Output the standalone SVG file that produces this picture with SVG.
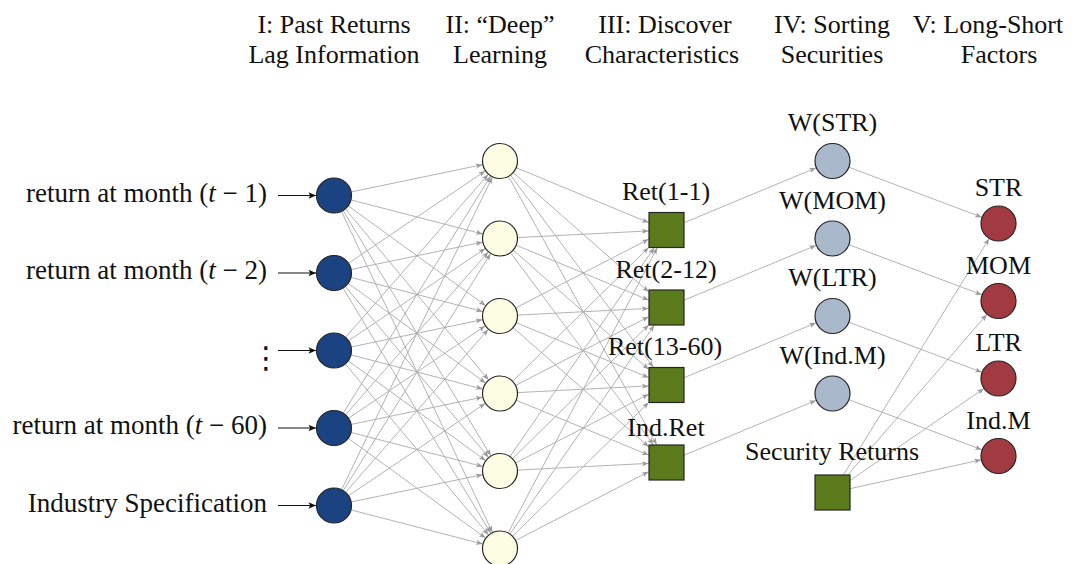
<svg xmlns="http://www.w3.org/2000/svg" width="1077" height="564" viewBox="0 0 1077 564">
<style>
.t{font-family:"Liberation Serif","Times New Roman",serif;font-size:26px;fill:#111;text-anchor:middle}
.te{font-family:"Liberation Serif","Times New Roman",serif;font-size:27px;fill:#111;text-anchor:end}
.in{fill:#1b4281;stroke:#262626;stroke-width:1.2}
.hid{fill:#fdfde4;stroke:#262626;stroke-width:1.2}
.ch{fill:#5b7a1b;stroke:#262626;stroke-width:1.2}
.w{fill:#a9b9cb;stroke:#262626;stroke-width:1.2}
.f{fill:#a23a41;stroke:#262626;stroke-width:1.2}
.e{stroke:#aaaaaa;stroke-width:0.9;fill:none;marker-end:url(#ac)}
.es{stroke:#aaaaaa;stroke-width:0.9;fill:none;marker-end:url(#as)}
.k{stroke:#111;stroke-width:1.1;fill:none;marker-end:url(#ak)}
</style>
<defs>
<marker id="ac" markerUnits="userSpaceOnUse" orient="auto" refX="18" refY="0" markerWidth="8" markerHeight="8" overflow="visible"><path d="M-6.5,-2.6 L0,0 L-6.5,2.6 L-5,0 Z" fill="#9a9a9a"/></marker>
<marker id="as" markerUnits="userSpaceOnUse" orient="auto" refX="0.5" refY="0" markerWidth="8" markerHeight="8" overflow="visible"><path d="M-6.5,-2.6 L0,0 L-6.5,2.6 L-5,0 Z" fill="#9a9a9a"/></marker>
<marker id="ak" markerUnits="userSpaceOnUse" orient="auto" refX="0" refY="0" markerWidth="8" markerHeight="8" overflow="visible"><path d="M-7.5,-3.2 L0,0 L-7.5,3.2 L-5.8,0 Z" fill="#111"/></marker>
</defs>

<g id="headers">
<text class="t" x="334" y="33">I: Past Returns</text>
<text class="t" x="334" y="63">Lag Information</text>
<text class="t" x="500" y="33">II: “Deep”</text>
<text class="t" x="500" y="63">Learning</text>
<text class="t" x="665" y="33">III: Discover</text>
<text class="t" x="662" y="63">Characteristics</text>
<text class="t" x="832" y="33">IV: Sorting</text>
<text class="t" x="832" y="63">Securities</text>
<text class="t" x="988" y="33">V: Long-Short</text>
<text class="t" x="999" y="63">Factors</text>
</g>

<g id="connectors">
<g id="input-labels">
<line class="k" x1="278" y1="195.5" x2="316" y2="195.5"/>
<line class="k" x1="278" y1="273" x2="316" y2="273"/>
<line class="k" x1="278" y1="350.5" x2="316" y2="350.5"/>
<line class="k" x1="278" y1="428" x2="316" y2="428"/>
<line class="k" x1="278" y1="505.5" x2="316" y2="505.5"/>
</g>
<g id="input-hidden">
<line class="e" x1="334" y1="195.5" x2="500" y2="161"/>
<line class="e" x1="334" y1="195.5" x2="500" y2="238.5"/>
<line class="e" x1="334" y1="195.5" x2="500" y2="316"/>
<line class="e" x1="334" y1="195.5" x2="500" y2="393.5"/>
<line class="e" x1="334" y1="195.5" x2="500" y2="471"/>
<line class="e" x1="334" y1="195.5" x2="500" y2="548.5"/>
<line class="e" x1="334" y1="273" x2="500" y2="161"/>
<line class="e" x1="334" y1="273" x2="500" y2="238.5"/>
<line class="e" x1="334" y1="273" x2="500" y2="316"/>
<line class="e" x1="334" y1="273" x2="500" y2="393.5"/>
<line class="e" x1="334" y1="273" x2="500" y2="471"/>
<line class="e" x1="334" y1="273" x2="500" y2="548.5"/>
<line class="e" x1="334" y1="350.5" x2="500" y2="161"/>
<line class="e" x1="334" y1="350.5" x2="500" y2="238.5"/>
<line class="e" x1="334" y1="350.5" x2="500" y2="316"/>
<line class="e" x1="334" y1="350.5" x2="500" y2="393.5"/>
<line class="e" x1="334" y1="350.5" x2="500" y2="471"/>
<line class="e" x1="334" y1="350.5" x2="500" y2="548.5"/>
<line class="e" x1="334" y1="428" x2="500" y2="161"/>
<line class="e" x1="334" y1="428" x2="500" y2="238.5"/>
<line class="e" x1="334" y1="428" x2="500" y2="316"/>
<line class="e" x1="334" y1="428" x2="500" y2="393.5"/>
<line class="e" x1="334" y1="428" x2="500" y2="471"/>
<line class="e" x1="334" y1="428" x2="500" y2="548.5"/>
<line class="e" x1="334" y1="505.5" x2="500" y2="161"/>
<line class="e" x1="334" y1="505.5" x2="500" y2="238.5"/>
<line class="e" x1="334" y1="505.5" x2="500" y2="316"/>
<line class="e" x1="334" y1="505.5" x2="500" y2="393.5"/>
<line class="e" x1="334" y1="505.5" x2="500" y2="471"/>
<line class="e" x1="334" y1="505.5" x2="500" y2="548.5"/>
</g>
<g id="hidden-char">
<line class="es" x1="500" y1="161" x2="649" y2="222.75"/>
<line class="es" x1="500" y1="238.5" x2="649" y2="230.89"/>
<line class="es" x1="500" y1="316" x2="649" y2="239.04"/>
<line class="es" x1="500" y1="393.5" x2="649" y2="247.18"/>
<line class="es" x1="500" y1="471" x2="654.41" y2="247.5"/>
<line class="es" x1="500" y1="548.5" x2="657.35" y2="247.5"/>
<line class="es" x1="500" y1="161" x2="649" y2="292.1"/>
<line class="es" x1="500" y1="238.5" x2="649" y2="300.25"/>
<line class="es" x1="500" y1="316" x2="649" y2="308.39"/>
<line class="es" x1="500" y1="393.5" x2="649" y2="316.54"/>
<line class="es" x1="500" y1="471" x2="649" y2="324.68"/>
<line class="es" x1="500" y1="548.5" x2="654.41" y2="325"/>
<line class="es" x1="500" y1="161" x2="653.49" y2="367.5"/>
<line class="es" x1="500" y1="238.5" x2="649" y2="369.6"/>
<line class="es" x1="500" y1="316" x2="649" y2="377.75"/>
<line class="es" x1="500" y1="393.5" x2="649" y2="385.89"/>
<line class="es" x1="500" y1="471" x2="649" y2="394.04"/>
<line class="es" x1="500" y1="548.5" x2="649" y2="402.18"/>
<line class="es" x1="500" y1="161" x2="656.84" y2="445"/>
<line class="es" x1="500" y1="238.5" x2="653.49" y2="445"/>
<line class="es" x1="500" y1="316" x2="649" y2="447.1"/>
<line class="es" x1="500" y1="393.5" x2="649" y2="455.25"/>
<line class="es" x1="500" y1="471" x2="649" y2="463.39"/>
<line class="es" x1="500" y1="548.5" x2="649" y2="471.54"/>
</g>
<g id="char-weight">
<line class="e" x1="666.5" y1="230" x2="832.5" y2="161"/>
<line class="e" x1="666.5" y1="307.5" x2="832.5" y2="238.5"/>
<line class="e" x1="666.5" y1="385" x2="832.5" y2="316"/>
<line class="e" x1="666.5" y1="462.5" x2="832.5" y2="393.5"/>
</g>
<g id="weight-factor">
<line class="e" x1="832.5" y1="161" x2="998.5" y2="223.5"/>
<line class="e" x1="832.5" y1="238.5" x2="998.5" y2="301"/>
<line class="e" x1="832.5" y1="316" x2="998.5" y2="378.5"/>
<line class="e" x1="832.5" y1="393.5" x2="998.5" y2="456"/>
</g>
<g id="secret-factor">
<line class="e" x1="832.5" y1="492.5" x2="998.5" y2="223.5"/>
<line class="e" x1="832.5" y1="492.5" x2="998.5" y2="301"/>
<line class="e" x1="832.5" y1="492.5" x2="998.5" y2="378.5"/>
<line class="e" x1="832.5" y1="492.5" x2="998.5" y2="456"/>
</g>
</g>

<g id="input-nodes">
<g id="in1"><circle class="in" cx="334" cy="195.5" r="17.5"/><text class="te" x="267" y="201.5">return at month (<tspan font-style="italic">t</tspan> − 1)</text></g>
<g id="in2"><circle class="in" cx="334" cy="273" r="17.5"/><text class="te" x="267" y="279">return at month (<tspan font-style="italic">t</tspan> − 2)</text></g>
<g id="in3"><circle class="in" cx="334" cy="350.5" r="17.5"/><text class="t" x="266" y="368" style="font-family:'DejaVu Sans',sans-serif;font-size:30px">⋮</text></g>
<g id="in4"><circle class="in" cx="334" cy="428" r="17.5"/><text class="te" x="267" y="434">return at month (<tspan font-style="italic">t</tspan> − 60)</text></g>
<g id="in5"><circle class="in" cx="334" cy="505.5" r="17.5"/><text class="te" x="267" y="511.5">Industry Specification</text></g>
</g>

<g id="hidden-nodes">
<g id="h1"><circle class="hid" cx="500" cy="161" r="17.5"/></g>
<g id="h2"><circle class="hid" cx="500" cy="238.5" r="17.5"/></g>
<g id="h3"><circle class="hid" cx="500" cy="316" r="17.5"/></g>
<g id="h4"><circle class="hid" cx="500" cy="393.5" r="17.5"/></g>
<g id="h5"><circle class="hid" cx="500" cy="471" r="17.5"/></g>
<g id="h6"><circle class="hid" cx="500" cy="548.5" r="17.5"/></g>
</g>

<g id="char-nodes">
<g id="c1"><rect class="ch" x="649" y="212.5" width="35" height="35"/><text class="t" x="666" y="200">Ret(1-1)</text></g>
<g id="c2"><rect class="ch" x="649" y="290" width="35" height="35"/><text class="t" x="666" y="277.5">Ret(2-12)</text></g>
<g id="c3"><rect class="ch" x="649" y="367.5" width="35" height="35"/><text class="t" x="665" y="355">Ret(13-60)</text></g>
<g id="c4"><rect class="ch" x="649" y="445" width="35" height="35"/><text class="t" x="666" y="436">Ind.Ret</text></g>
</g>

<g id="weight-nodes">
<g id="w1"><circle class="w" cx="832.5" cy="161" r="17.5"/><text class="t" x="832.5" y="131">W(STR)</text></g>
<g id="w2"><circle class="w" cx="832.5" cy="238.5" r="17.5"/><text class="t" x="832.5" y="208.5">W(MOM)</text></g>
<g id="w3"><circle class="w" cx="832.5" cy="316" r="17.5"/><text class="t" x="832.5" y="286">W(LTR)</text></g>
<g id="w4"><circle class="w" cx="832.5" cy="393.5" r="17.5"/><text class="t" x="832.5" y="363.5">W(Ind.M)</text></g>
</g>

<g id="security-returns"><rect class="ch" x="815" y="475" width="35" height="35"/><text class="t" x="832" y="460">Security Returns</text></g>

<g id="factor-nodes">
<g id="f1"><circle class="f" cx="998.5" cy="223.5" r="17.5"/><text class="t" x="998.5" y="196">STR</text></g>
<g id="f2"><circle class="f" cx="998.5" cy="301" r="17.5"/><text class="t" x="998.5" y="273.5">MOM</text></g>
<g id="f3"><circle class="f" cx="998.5" cy="378.5" r="17.5"/><text class="t" x="998.5" y="351">LTR</text></g>
<g id="f4"><circle class="f" cx="998.5" cy="456" r="17.5"/><text class="t" x="998.5" y="428.5">Ind.M</text></g>
</g>
</svg>
